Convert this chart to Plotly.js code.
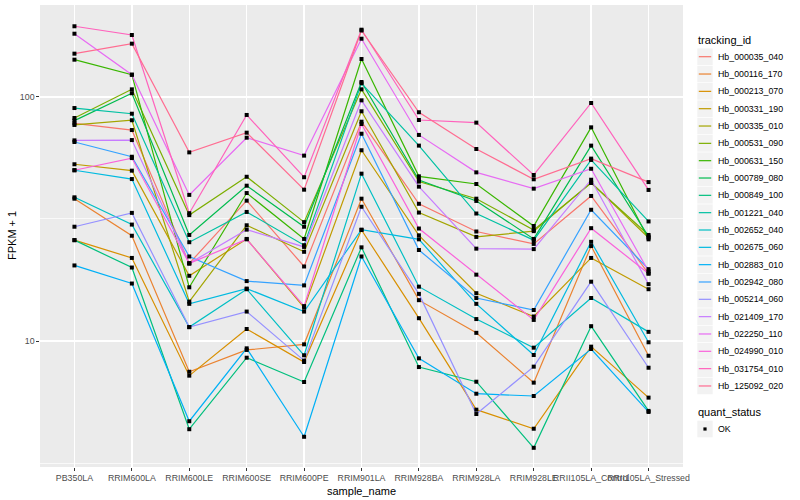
<!DOCTYPE html>
<html><head><meta charset="utf-8">
<script src="https://cdn.plot.ly/plotly-3.0.1.min.js"></script>
<style>html,body{margin:0;padding:0;background:#fff}#chart{width:800px;height:500px}</style>
</head><body><div id="chart"></div>
<script>
const categories = ['PB350LA','RRIM600LA','RRIM600LE','RRIM600SE','RRIM600PE','RRIM901LA','RRIM928BA','RRIM928LA','RRIM928LE','RRII105LA_Control','RRII105LA_Stressed'];
const trackingIds = ['Hb_000035_040','Hb_000116_170','Hb_000213_070','Hb_000331_190','Hb_000335_010','Hb_000531_090','Hb_000631_150','Hb_000789_080','Hb_000849_100','Hb_001221_040','Hb_002652_040','Hb_002675_060','Hb_002883_010','Hb_002942_080','Hb_005214_060','Hb_021409_170','Hb_022250_110','Hb_024990_010','Hb_031754_010','Hb_125092_020'];
const seriesColors = ['#F8766D','#EA8331','#D89000','#C09B00','#A3A500','#7CAE00','#39B600','#00BB4E','#00BF7D','#00C1A3','#00BFC4','#00BAE0','#00B0F6','#35A2FF','#9590FF','#C77CFF','#E76BF3','#FA62DB','#FF62BC','#FF6C91'];
const yTickVals = [10, 100];
const yTickText = ['10', '100'];
const quantStatus = ['OK'];
const xTitle = 'sample_name';
const yTitle = 'FPKM + 1';

// FPKM + 1 values per tracking_id, in category order
const hb000035_040 = [78.0, 73.2, 20.8, 37.6, 20.2, 79.2, 36.5, 28.1, 25.0, 39.3, 18.9];
const hb000116_170 = [38.3, 27.0, 7.48, 9.19, 9.69, 38.3, 14.7, 10.8, 6.75, 24.5, 8.70];
const hb000213_070 = [25.9, 21.9, 7.21, 11.2, 8.20, 28.5, 12.4, 5.23, 4.37, 9.48, 5.86];
const hb000331_190 = [53.0, 49.9, 18.5, 26.2, 13.7, 60.5, 27.1, 15.7, 12.6, 21.9, 16.3];
const hb000335_010 = [76.8, 80.3, 14.5, 29.8, 23.2, 87.4, 33.6, 26.7, 28.2, 44.6, 26.5];
const hb000531_090 = [82.0, 107.5, 32.8, 47.1, 30.7, 107.5, 45.0, 38.3, 28.5, 44.4, 27.2];
const hb000631_150 = [142.2, 123.4, 16.6, 40.4, 26.2, 143.1, 47.3, 44.0, 29.6, 75.1, 26.1];
const hb000789_080 = [80.0, 103.6, 27.2, 43.3, 29.4, 115.2, 45.7, 37.5, 26.2, 63.2, 26.8];
const hb000849_100 = [25.9, 20.0, 4.35, 8.54, 6.79, 24.2, 7.82, 6.81, 3.65, 11.5, 5.17];
const hb001221_040 = [90.1, 85.4, 25.4, 33.8, 24.7, 113.8, 63.2, 33.3, 25.9, 55.2, 30.9];
const hb002652_040 = [38.8, 30.0, 11.4, 16.3, 8.74, 48.5, 16.7, 12.3, 9.39, 15.0, 10.9];
const hb002675_060 = [50.1, 46.1, 14.2, 16.4, 13.2, 28.6, 26.1, 14.2, 8.76, 25.5, 9.88];
const hb002883_010 = [20.4, 17.2, 4.69, 9.33, 4.05, 22.2, 8.49, 6.08, 5.95, 9.27, 5.12];
const hb002942_080 = [65.4, 56.9, 22.2, 17.6, 16.9, 70.7, 23.6, 15.0, 13.4, 34.5, 19.7];
const hb005214_060 = [29.4, 33.5, 11.4, 13.2, 8.31, 35.5, 15.6, 5.02, 7.85, 17.5, 7.77];
const hb021409_170 = [66.4, 66.6, 20.8, 28.6, 24.3, 96.9, 42.9, 23.9, 23.8, 45.8, 17.1];
const hb022250_110 = [181.7, 123.4, 39.7, 68.1, 57.5, 173.3, 69.9, 49.1, 42.1, 50.8, 19.3];
const hb024990_010 = [50.1, 56.2, 20.8, 26.1, 13.9, 77.5, 28.9, 18.7, 12.2, 29.0, 18.9];
const hb031754_010 = [194.9, 179.5, 33.4, 84.4, 46.9, 188.7, 80.5, 78.5, 47.9, 94.5, 41.6];
const hb125092_020 = [150.5, 165.4, 59.3, 71.4, 41.7, 187.3, 86.6, 61.2, 46.0, 55.9, 44.8];

const seriesValues = [hb000035_040, hb000116_170, hb000213_070, hb000331_190, hb000335_010, hb000531_090, hb000631_150, hb000789_080, hb000849_100, hb001221_040, hb002652_040, hb002675_060, hb002883_010, hb002942_080, hb005214_060, hb021409_170, hb022250_110, hb024990_010, hb031754_010, hb125092_020];

const FONT = 'Liberation Sans, Arial, Helvetica, sans-serif';
const W = 800, H = 500, ML = 40, MR = 117, MT = 5, MB = 33;
const PW = W - ML - MR, PH = H - MT - MB;
const px = v => (v - ML) / PW;
const py = v => (H - MB - v) / PH;

const traces = [];
seriesValues.forEach((vals, i) => {
  traces.push({
    type: 'scatter', mode: 'lines', x: categories, y: vals,
    line: {color: seriesColors[i], width: 1.2},
    name: trackingIds[i], showlegend: false, hoverinfo: 'skip'
  });
});
const allX = [], allY = [];
seriesValues.forEach(vals => vals.forEach((v, j) => { allX.push(categories[j]); allY.push(v); }));
traces.push({
  type: 'scatter', mode: 'markers', x: allX, y: allY,
  marker: {color: '#000000', symbol: 'square', size: 4},
  name: quantStatus[0], showlegend: false, hoverinfo: 'skip'
});

// legend (ggplot style) drawn in paper space
const shapes = [], annotations = [];
const legX0 = 697.3, keyW = 15.4, keyH = 16.6, textX = 715.6;
annotations.push({xref: 'paper', yref: 'paper', x: px(legX0 - 1), y: py(40.5), xanchor: 'left', yanchor: 'middle',
  text: 'tracking_id', showarrow: false, font: {family: FONT, size: 11, color: '#000'}});
trackingIds.forEach((name, i) => {
  const cy = 56.7 + 17.33 * i;
  shapes.push({type: 'rect', xref: 'paper', yref: 'paper', x0: px(legX0), x1: px(legX0 + keyW),
    y0: py(cy - keyH / 2), y1: py(cy + keyH / 2), fillcolor: '#F2F2F2', line: {width: 0}});
  shapes.push({type: 'line', xref: 'paper', yref: 'paper', x0: px(legX0 + 1.5), x1: px(legX0 + keyW - 1.5),
    y0: py(cy), y1: py(cy), line: {color: seriesColors[i], width: 1.2}});
  annotations.push({xref: 'paper', yref: 'paper', x: px(textX), y: py(cy), xanchor: 'left', yanchor: 'middle',
    text: name, showarrow: false, font: {family: FONT, size: 8.8, color: '#000'}});
});
annotations.push({xref: 'paper', yref: 'paper', x: px(legX0 - 1), y: py(412), xanchor: 'left', yanchor: 'middle',
  text: 'quant_status', showarrow: false, font: {family: FONT, size: 11, color: '#000'}});
quantStatus.forEach((s, i) => {
  const cy = 429 + 17.33 * i;
  shapes.push({type: 'rect', xref: 'paper', yref: 'paper', x0: px(legX0), x1: px(legX0 + keyW),
    y0: py(cy - keyH / 2), y1: py(cy + keyH / 2), fillcolor: '#F2F2F2', line: {width: 0}});
  shapes.push({type: 'rect', xref: 'paper', yref: 'paper', x0: px(legX0 + keyW / 2 - 1.6), x1: px(legX0 + keyW / 2 + 1.6),
    y0: py(cy - 1.6), y1: py(cy + 1.6), fillcolor: '#000', line: {width: 0}});
  annotations.push({xref: 'paper', yref: 'paper', x: px(textX), y: py(cy), xanchor: 'left', yanchor: 'middle',
    text: s, showarrow: false, font: {family: FONT, size: 8.8, color: '#000'}});
});
// axis titles placed like ggplot
annotations.push({xref: 'paper', yref: 'paper', x: 0.5, y: py(491), xanchor: 'center', yanchor: 'middle',
  text: xTitle, showarrow: false, font: {family: FONT, size: 11, color: '#000'}});
annotations.push({xref: 'paper', yref: 'paper', x: px(12), y: 0.5, xanchor: 'center', yanchor: 'middle', textangle: -90,
  text: yTitle, showarrow: false, font: {family: FONT, size: 11, color: '#000'}});

const layout = {
  width: W, height: H,
  margin: {l: ML, r: MR, t: MT, b: MB, pad: 0},
  paper_bgcolor: '#FFFFFF', plot_bgcolor: '#EBEBEB',
  font: {family: FONT, size: 8.8, color: '#4D4D4D'},
  showlegend: false,
  xaxis: {
    type: 'category', categoryorder: 'array', categoryarray: categories,
    range: [-0.6, categories.length - 0.4],
    showgrid: true, gridcolor: '#FFFFFF', gridwidth: 1.4,
    zeroline: false, showline: false,
    ticks: 'outside', ticklen: 2.7, tickwidth: 1, tickcolor: '#333333',
    tickangle: 0, tickfont: {family: FONT, size: 8.8, color: '#4D4D4D'},
    automargin: false, fixedrange: true
  },
  yaxis: {
    type: 'log', range: [0.4836, 2.377],
    tickmode: 'array', tickvals: yTickVals, ticktext: yTickText,
    showgrid: true, gridcolor: '#FFFFFF', gridwidth: 1.4,
    minor: {tickmode: 'array', tickvals: [Math.sqrt(10), Math.sqrt(1000)], showgrid: true, gridcolor: '#FFFFFF', gridwidth: 0.7, ticks: ''},
    zeroline: false, showline: false,
    ticks: 'outside', ticklen: 2.7, tickwidth: 1, tickcolor: '#333333',
    tickfont: {family: FONT, size: 8.8, color: '#4D4D4D'},
    automargin: false, fixedrange: true
  },
  shapes: shapes,
  annotations: annotations
};
Plotly.newPlot('chart', traces, layout, {staticPlot: true, displayModeBar: false});
</script></body></html>
